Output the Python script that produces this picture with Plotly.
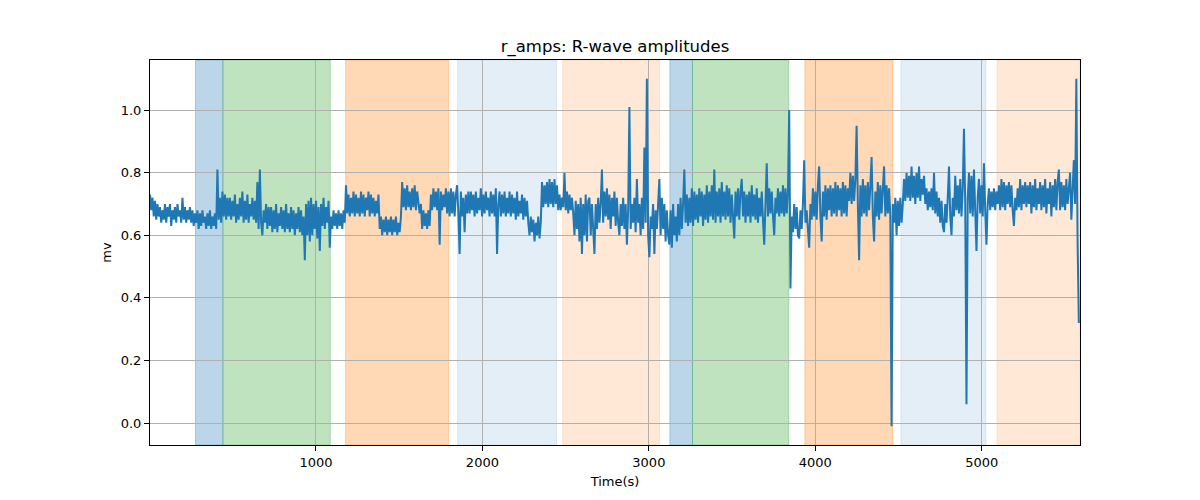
import plotly.graph_objects as go

# ---- data ----
t_start = 3
t_step = 7.5
amps = [
    0.73,0.68,0.72,0.66,0.71,0.65,0.70,0.66,0.69,0.64,0.68,0.65,0.70,0.64,0.69,0.66,
    0.70,0.63,0.68,0.65,0.69,0.64,0.70,0.66,0.68,0.64,0.72,0.65,0.69,0.64,0.68,0.65,
    0.69,0.64,0.68,0.63,0.67,0.64,0.68,0.62,0.67,0.63,0.68,0.64,0.66,0.62,0.67,0.63,
    0.68,0.62,0.66,0.63,0.67,0.62,0.81,0.65,0.72,0.64,0.74,0.66,0.73,0.65,0.72,0.66,
    0.72,0.65,0.71,0.66,0.73,0.64,0.70,0.65,0.72,0.66,0.74,0.64,0.71,0.65,0.73,0.64,
    0.70,0.66,0.72,0.65,0.71,0.64,0.77,0.62,0.81,0.64,0.60,0.68,0.64,0.70,0.62,0.69,
    0.63,0.69,0.61,0.68,0.62,0.70,0.61,0.67,0.63,0.69,0.62,0.68,0.61,0.70,0.62,0.67,
    0.61,0.69,0.62,0.68,0.60,0.67,0.62,0.69,0.61,0.68,0.60,0.66,0.52,0.70,0.60,0.71,
    0.58,0.72,0.60,0.70,0.62,0.71,0.59,0.69,0.55,0.70,0.63,0.72,0.62,0.69,0.64,0.71,
    0.56,0.66,0.62,0.68,0.63,0.67,0.62,0.68,0.63,0.67,0.62,0.68,0.64,0.76,0.67,0.73,
    0.66,0.72,0.67,0.74,0.66,0.73,0.67,0.72,0.66,0.74,0.67,0.73,0.66,0.72,0.68,0.74,
    0.66,0.73,0.67,0.72,0.66,0.71,0.67,0.73,0.62,0.66,0.60,0.65,0.61,0.66,0.60,0.65,
    0.61,0.66,0.60,0.65,0.61,0.66,0.60,0.64,0.61,0.66,0.77,0.69,0.75,0.68,0.76,0.69,
    0.74,0.68,0.75,0.69,0.76,0.68,0.74,0.69,0.67,0.70,0.62,0.68,0.63,0.67,0.62,0.68,
    0.63,0.73,0.68,0.75,0.69,0.74,0.68,0.75,0.57,0.74,0.68,0.73,0.69,0.75,0.67,0.74,
    0.66,0.75,0.67,0.74,0.66,0.73,0.76,0.67,0.54,0.74,0.66,0.72,0.61,0.73,0.67,0.74,
    0.67,0.74,0.68,0.73,0.66,0.74,0.67,0.72,0.68,0.75,0.66,0.73,0.67,0.74,0.68,0.72,
    0.66,0.74,0.67,0.73,0.66,0.75,0.54,0.70,0.74,0.66,0.73,0.67,0.74,0.66,0.72,0.67,
    0.74,0.66,0.73,0.67,0.72,0.65,0.74,0.66,0.71,0.67,0.73,0.65,0.72,0.66,0.71,0.64,
    0.60,0.66,0.61,0.65,0.58,0.64,0.60,0.66,0.59,0.64,0.77,0.69,0.76,0.70,0.77,0.69,
    0.78,0.70,0.77,0.69,0.78,0.70,0.76,0.68,0.73,0.68,0.72,0.69,0.80,0.68,0.74,0.67,
    0.73,0.68,0.72,0.67,0.60,0.71,0.62,0.70,0.58,0.72,0.54,0.70,0.60,0.73,0.58,0.71,
    0.72,0.60,0.70,0.62,0.54,0.70,0.62,0.72,0.64,0.70,0.81,0.64,0.74,0.66,0.75,0.65,
    0.73,0.62,0.72,0.66,0.74,0.63,0.72,0.64,0.60,0.70,0.63,0.72,0.62,0.70,0.57,0.68,
    1.01,0.62,0.70,0.64,0.72,0.61,0.78,0.64,0.70,0.60,0.72,0.62,0.88,0.64,1.10,0.60,
    0.53,0.66,0.62,0.70,0.54,0.68,0.62,0.70,0.78,0.60,0.72,0.62,0.70,0.58,0.68,0.60,
    0.57,0.68,0.56,0.70,0.60,0.66,0.58,0.70,0.60,0.72,0.62,0.70,0.81,0.64,0.73,0.63,
    0.72,0.64,0.75,0.63,0.74,0.65,0.73,0.64,0.75,0.66,0.74,0.63,0.73,0.65,0.76,0.64,
    0.74,0.66,0.76,0.65,0.81,0.64,0.74,0.66,0.75,0.64,0.77,0.66,0.74,0.65,0.76,0.66,
    0.75,0.64,0.73,0.66,0.59,0.74,0.66,0.75,0.65,0.74,0.78,0.66,0.74,0.64,0.73,0.66,
    0.74,0.64,0.76,0.66,0.73,0.65,0.75,0.64,0.72,0.66,0.74,0.65,0.57,0.70,0.83,0.66,
    0.75,0.67,0.74,0.66,0.60,0.72,0.67,0.75,0.66,0.74,0.67,0.76,0.66,0.75,0.67,0.74,
    1.00,0.43,0.66,0.61,0.70,0.62,0.69,0.60,0.59,0.68,0.62,0.70,0.84,0.64,0.68,0.62,
    0.56,0.70,0.65,0.75,0.66,0.74,0.65,0.76,0.82,0.66,0.58,0.74,0.66,0.76,0.65,0.75,
    0.68,0.76,0.66,0.75,0.67,0.77,0.66,0.76,0.68,0.75,0.66,0.77,0.67,0.76,0.66,0.75,
    0.71,0.80,0.70,0.79,0.71,0.78,0.95,0.70,0.52,0.76,0.66,0.78,0.67,0.76,0.66,0.77,
    0.68,0.76,0.85,0.66,0.58,0.74,0.66,0.77,0.65,0.76,0.67,0.75,0.82,0.66,0.76,0.67,
    0.75,0.66,-0.01,0.70,0.64,0.72,0.60,0.71,0.63,0.72,0.64,0.70,0.78,0.71,0.80,0.72,
    0.79,0.71,0.82,0.72,0.79,0.70,0.80,0.72,0.82,0.71,0.78,0.73,0.79,0.70,0.75,0.68,
    0.74,0.69,0.75,0.68,0.80,0.67,0.74,0.66,0.72,0.64,0.71,0.63,0.61,0.70,0.64,0.72,
    0.82,0.66,0.60,0.72,0.66,0.79,0.68,0.76,0.67,0.78,0.66,0.75,0.94,0.70,0.06,0.72,
    0.80,0.67,0.79,0.66,0.81,0.68,0.55,0.72,0.78,0.67,0.76,0.66,0.83,0.68,0.57,0.70,
    0.75,0.68,0.74,0.69,0.75,0.68,0.74,0.70,0.76,0.68,0.78,0.69,0.77,0.68,0.76,0.70,
    0.77,0.69,0.76,0.68,0.63,0.72,0.68,0.75,0.69,0.78,0.68,0.76,0.70,0.77,0.69,0.76,
    0.70,0.77,0.67,0.76,0.69,0.78,0.68,0.75,0.70,0.77,0.68,0.76,0.69,0.78,0.67,0.75,
    0.70,0.77,0.66,0.76,0.69,0.78,0.68,0.77,0.81,0.68,0.77,0.69,0.76,0.68,0.78,0.70,
    0.76,0.80,0.65,0.78,0.84,0.70,1.10,0.58,0.32,
]
times = [t_start + t_step * i for i in range(len(amps))]

# shaded phases
span_starts = [276, 441, 1178, 1851, 2482, 3126, 3262, 3937, 4514, 5091]
span_ends = [441, 1086, 1797, 2446, 3065, 3262, 3841, 4466, 5025, 5590]
span_colors = [
    "rgba(31,119,180,0.30)", "rgba(44,160,44,0.30)", "rgba(255,127,14,0.30)",
    "rgba(31,119,180,0.12)", "rgba(255,127,14,0.17)",
    "rgba(31,119,180,0.30)", "rgba(44,160,44,0.30)", "rgba(255,127,14,0.30)",
    "rgba(31,119,180,0.12)", "rgba(255,127,14,0.17)",
]

x_ticks = [1000, 2000, 3000, 4000, 5000]
y_ticks = [0.0, 0.2, 0.4, 0.6, 0.8, 1.0]

fig = go.Figure()
fig.add_trace(go.Scatter(x=times, y=amps, mode="lines",
                         line=dict(color="#1f77b4", width=2), showlegend=False))

for s, e, c in zip(span_starts, span_ends, span_colors):
    fig.add_shape(type="rect", xref="x", yref="y domain", x0=s, x1=e, y0=0, y1=1,
                  fillcolor=c, line=dict(color=c, width=1), layer="below")

font = dict(family="DejaVu Sans", size=13, color="black")
fig.update_layout(
    width=1200, height=500,
    margin=dict(l=150, r=120, t=60, b=55),
    paper_bgcolor="white", plot_bgcolor="white",
    font=font,
    title=dict(text="r_amps: R-wave amplitudes", x=0.5, xref="paper", xanchor="center",
               y=1 - 46 / 500, yref="container", yanchor="middle",
               font=dict(family="DejaVu Sans", size=16.5, color="black")),
    xaxis=dict(range=[3, 5590], tickvals=x_ticks, ticktext=[str(v) for v in x_ticks],
               showgrid=True, gridcolor="#b0b0b0", gridwidth=1,
               showline=True, linecolor="black", linewidth=1, mirror=True,
               ticks="outside", ticklen=5, tickcolor="black", zeroline=False,
               title=dict(text="Time(s)", standoff=8, font=font)),
    yaxis=dict(range=[-0.07, 1.16], tickvals=y_ticks, ticktext=[f"{v:.1f}" for v in y_ticks],
               showgrid=True, gridcolor="#b0b0b0", gridwidth=1,
               showline=True, linecolor="black", linewidth=1, mirror=True,
               ticks="outside", ticklen=5, tickcolor="black", zeroline=False,
               title=dict(text="mv", standoff=6, font=font)),
)

fig.write_html("out.html")
